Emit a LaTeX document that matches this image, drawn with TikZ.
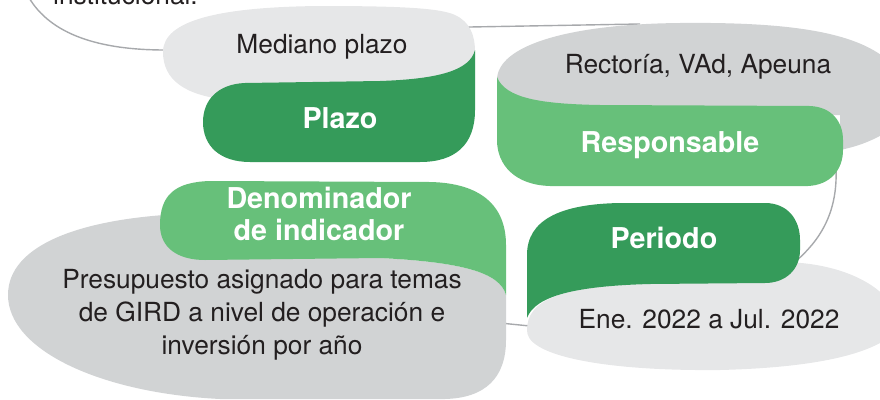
\documentclass[tikz,border=0pt]{standalone}
\usepackage{fontspec}
\setmainfont{TeX Gyre Heros}
\definecolor{dkgreen}{HTML}{359B5A}
\definecolor{ltgreen}{HTML}{67C07A}
\definecolor{ltgray}{HTML}{E6E7E8}
\definecolor{mdgray}{HTML}{D1D3D4}
\definecolor{lngray}{HTML}{A7A9AC}
\definecolor{txt}{HTML}{231F20}
\tikzset{
  conn/.style={draw=lngray,line width=1.4pt},
  val/.style={text=txt,inner sep=0pt,font=\fontsize{26.3}{33}\selectfont,anchor=base},
  lbl/.style={text=white,inner sep=0pt,font=\fontsize{28.7}{33}\selectfont\bfseries,anchor=base},
}
\begin{document}
\begin{tikzpicture}[x=1pt,y=-1pt]
\useasboundingbox (0,0) rectangle (880,399);
% connector coordinates
\coordinate (c0) at (28,-4);
\coordinate (c1) at (165,50);
\coordinate (c2) at (470,27);
\coordinate (c3) at (640,24);
\coordinate (c4) at (836,168);
\coordinate (c5) at (795,262);
\coordinate (c6) at (500,323);
\coordinate (c7) at (530,326);
% connectors (behind)
\draw[conn] (c0) .. controls (50,35) and (100,50) .. (c1) -- (c2) -- (c3);
\draw[conn] (c4) .. controls (838,215) and (818,242) .. (c5);
\draw[conn] (c6) -- (c7);
% institucional text (cut at top)
\node[val,anchor=base west] (inst) at (53,4) {institucional.};
% Mediano plazo / Plazo
\fill[ltgray] (163,52) .. controls (163,20) and (220,7) .. (320,6)
  .. controls (400,6) and (440,8) .. (455,15) .. controls (470,22) and (475,35) .. (475,52)
  -- (475,90) -- (260,95) -- (230,100) .. controls (185,96) and (163,80) .. (163,52) -- cycle;
\fill[dkgreen] (475,50) -- (475,110) .. controls (475,145) and (455,162) .. (420,162)
  -- (250,162) .. controls (220,162) and (203,146) .. (203,122)
  .. controls (203,100) and (218,84) .. (245,83) -- (380,81)
  .. controls (440,79) and (470,70) .. (475,50) -- cycle;
\node[val] (mediano) at (322,53) {Mediano plazo};
\node[lbl] (plazo) at (340,128) {Plazo};
% Rectoria / Responsable
\fill[mdgray] (497,80) .. controls (497,45) and (570,24) .. (680,23)
  .. controls (780,22) and (850,30) .. (885,58) -- (885,133)
  .. controls (870,142) and (855,147) .. (840,150) -- (840,115) -- (497,115) -- cycle;
\fill[ltgreen] (497,77) .. controls (505,98) and (540,104) .. (600,105) -- (810,106)
  .. controls (832,107) and (843,122) .. (843,140) -- (843,150)
  .. controls (843,170) and (830,185) .. (808,186) -- (550,186)
  .. controls (515,185) and (497,165) .. (497,140) -- cycle;
\node[val] (rect) at (698,73) {Rectoría, VAd, Apeuna};
\node[lbl] (resp) at (670,152) {Responsable};
% Ene / Periodo
\fill[ltgray] (527,330) .. controls (527,300) and (560,286) .. (650,284) -- (780,262)
  .. controls (830,262) and (870,278) .. (888,300) -- (888,338)
  .. controls (860,358) and (800,368) .. (720,370)
  .. controls (620,371) and (560,360) .. (538,346)
  .. controls (530,341) and (527,336) .. (527,330) -- cycle;
\fill[dkgreen] (527,318) -- (527,255) .. controls (527,220) and (560,204) .. (620,203)
  -- (765,203) .. controls (788,203) and (800,220) .. (800,240) -- (800,250)
  .. controls (800,270) and (785,283) .. (765,283) -- (650,284)
  .. controls (575,286) and (535,296) .. (527,318) -- cycle;
\node[lbl] (periodo) at (664,248) {Periodo};
\node[val] (ene) at (709,328) {Ene. 2022 a Jul. 2022};
% Presupuesto / Denominador
\fill[mdgray] (8,295) .. controls (8,245) and (80,219) .. (180,214) -- (380,258)
  .. controls (460,262) and (500,272) .. (506,295) -- (506,340)
  .. controls (506,378) and (485,398) .. (445,399) -- (220,399)
  .. controls (100,393) and (8,350) .. (8,295) -- cycle;
\fill[ltgreen] (160,225) .. controls (160,195) and (175,182) .. (210,181) -- (430,182)
  .. controls (480,183) and (506,205) .. (506,245) -- (506,295)
  .. controls (500,272) and (460,262) .. (380,258) -- (205,260)
  .. controls (178,260) and (160,248) .. (160,225) -- cycle;
\node[lbl] (den1) at (319,208) {Denominador};
\node[lbl] (den2) at (319,240) {de indicador};
\node[val] (pre1) at (262,288) {Presupuesto asignado para temas};
\node[val] (pre2) at (262,321) {de GIRD a nivel de operación e};
\node[val] (pre3) at (262,354) {inversión por año};
\end{tikzpicture}
\end{document}
